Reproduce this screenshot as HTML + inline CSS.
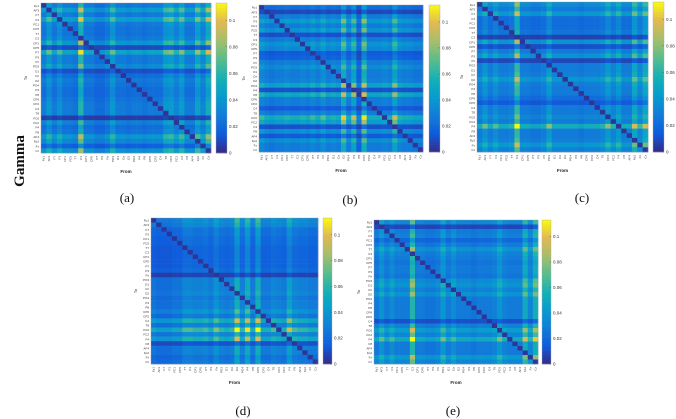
<!DOCTYPE html>
<html><head><meta charset="utf-8"><style>
html,body{margin:0;padding:0;background:#fff;width:676px;height:419px;overflow:hidden}
svg{display:block}
text{font-family:"Liberation Sans",sans-serif}
</style></head><body>
<svg id="fig" width="676" height="419" xmlns="http://www.w3.org/2000/svg">
<text x="0" y="0" transform="translate(24,161) rotate(-90)" text-anchor="middle" font-weight="bold" font-size="15" fill="#111" style="font-family:'Liberation Serif',serif">Gamma</text>
</svg>
<script>
const channels = ["Fp1","AF3","F7","F3","FC1","FC5","T7","C3","CP1","CP5","P7","P3","Pz","PO3","O1","Oz","O2","PO4","P4","P8","CP6","CP2","C4","T8","FC6","FC2","F4","F8","AF4","Fp2","Fz","Cz"];
const colorTicks = [0,0.02,0.04,0.06,0.08,0.1];
const vmax = 0.113;
const scaleBase = 0.027;
const panelLabels = ["(a)","(b)","(c)","(d)","(e)"];
const colA = [1.0,1.5,1.0,1.4,1.0,1.0,0.9,2.2,1.0,1.0,0.8,0.8,1.0,1.5,1.0,1.0,0.9,1.0,1.0,0.9,1.0,1.0,1.0,1.5,1.6,1.2,1.6,1.0,1.0,1.7,1.2,2.0];
const rowA = [1.0,1.6,1.0,1.7,1.0,0.9,0.9,1.0,1.5,0.35,1.8,1.0,1.0,1.3,0.4,0.8,1.0,0.9,0.8,0.8,0.9,1.0,1.0,1.0,0.2,1.1,0.8,0.9,1.5,1.2,0.6,1.4];
const colB = [1.2,1.0,0.9,1.0,1.0,1.1,1.0,1.0,1.1,1.0,1.2,1.0,1.3,1.0,1.1,1.0,1.9,1.0,1.7,0.6,2.0,1.0,1.0,1.0,1.1,1.0,1.7,1.1,1.0,1.0,0.9,0.9];
const rowB = [0.8,0.3,1.0,1.5,1.0,1.4,0.4,1.0,1.4,1.2,0.5,0.6,1.0,1.3,1.0,1.0,1.1,1.7,0.4,1.8,1.0,1.0,0.5,1.0,2.0,1.6,0.4,1.3,0.5,1.3,1.0,1.0];
const colC = [1.0,1.4,1.0,1.3,1.0,1.0,1.1,2.3,1.0,1.0,0.9,0.9,1.0,1.5,1.0,1.0,1.0,1.0,1.0,0.9,1.0,1.0,1.0,1.1,1.5,1.1,1.5,1.0,1.0,1.8,1.2,1.8];
const rowC = [1.3,1.0,1.5,0.8,0.8,0.8,0.9,0.25,1.4,0.4,1.0,1.4,0.3,1.0,1.0,1.1,1.5,1.1,1.0,1.0,0.8,0.5,1.0,1.0,1.2,1.0,2.0,1.0,1.0,1.1,1.5,1.1];
const colD = [0.9,0.8,0.8,0.8,0.9,0.9,1.2,1.2,1.1,1.1,1.2,1.0,1.4,1.1,1.0,1.1,2.0,1.1,1.9,1.0,2.0,1.0,1.0,1.2,1.1,1.0,1.7,1.2,1.1,1.1,1.0,1.0];
const rowD = [1.2,1.1,0.8,0.8,0.7,0.7,0.6,0.6,0.6,0.6,0.6,0.7,0.25,1.0,1.0,1.0,1.1,0.9,1.0,1.0,1.3,0.9,1.8,1.0,2.1,1.1,1.8,0.4,1.0,1.0,0.8,0.9];
const colE = [1.0,1.4,1.0,1.3,1.0,1.0,1.0,2.2,1.0,1.0,0.9,0.9,1.0,1.5,1.0,1.3,1.0,1.0,1.0,0.9,1.0,1.0,1.0,1.1,1.5,1.1,1.0,1.0,1.0,1.9,1.2,2.0];
const rowE = [1.2,0.3,1.0,1.1,0.7,1.0,1.4,1.1,1.0,0.9,1.0,1.0,0.9,1.3,1.4,1.1,1.4,1.0,1.0,1.0,1.0,1.0,0.4,1.1,1.6,1.2,1.9,1.0,1.0,1.0,1.5,1.2];

const NS = "http://www.w3.org/2000/svg";
const fig = document.getElementById("fig");
const parula = [[53,42,135],[15,92,221],[18,125,216],[7,156,207],[21,177,180],[89,189,140],[165,190,107],[225,185,82],[249,251,14]];
function cmap(v){
  let t = Math.max(0, Math.min(1, v / vmax)) * (parula.length - 1);
  let i = Math.min(parula.length - 2, Math.floor(t)), f = t - i;
  const a = parula[i], b = parula[i+1];
  return "rgb(" + a.map((x,k)=>Math.round(x + (b[k]-x)*f)).join(",") + ")";
}
function mk(tag, attrs, parent){
  const e = document.createElementNS(NS, tag);
  for (const k in attrs) e.setAttribute(k, attrs[k]);
  (parent || fig).appendChild(e);
  return e;
}
const panels = [
  {rows: rowA, cols: colA, x0: 41, x1: 211, y0: 3, y1: 153, cb: [216, 227], lx: 127, ly: 202},
  {rows: rowB, cols: colB, x0: 259, x1: 423, y0: 5, y1: 152, cb: [429, 440], lx: 350, ly: 204},
  {rows: rowC, cols: colC, x0: 477, x1: 648, y0: 2, y1: 152, cb: [653, 664], lx: 582, ly: 202},
  {rows: rowD, cols: colD, x0: 151, x1: 318, y0: 218, y1: 364, cb: [323, 332], lx: 243, ly: 415},
  {rows: rowE, cols: colE, x0: 374, x1: 538, y0: 220, y1: 364, cb: [542, 551], lx: 453, ly: 415}
];
panels.forEach((p, pi) => {
  const g = mk("g", {});
  
  
  const n = channels.length;
  const cw = (p.x1 - p.x0) / n, ch = (p.y1 - p.y0) / n;
  const xs = j => p.x0 + j * cw, ys = i => p.y0 + i * ch;
  for (let i = 0; i < n; i++) for (let j = 0; j < n; j++) {
    const v = i === j ? 0.003 : scaleBase * p.rows[i] * p.cols[j];
    const r = mk("rect", {x: xs(j).toFixed(2), y: ys(i).toFixed(2), width: (cw + 0.3).toFixed(2), height: (ch + 0.3).toFixed(2), fill: cmap(v)}, g);
    
    
  }
  mk("rect", {x: p.x0, y: p.y0, width: p.x1 - p.x0, height: p.y1 - p.y0, fill: "none", stroke: "#999", "stroke-width": 0.4}, g);
  for (let i = 0; i < n; i++) {
    const t = mk("text", {x: p.x0 - 2, y: ys(i) + ch * 0.8, "font-size": 3, "text-anchor": "end", fill: "#333"}, g);
    t.textContent = channels[i];
    
    
    const tx = mk("text", {x: 0, y: 0, "font-size": 3, "text-anchor": "end", fill: "#333", transform: "translate(" + (xs(i) + cw * 0.7).toFixed(2) + "," + (p.y1 + 3) + ") rotate(-90)"}, g);
    tx.textContent = channels[i];
    
    
  }
  const yl = mk("text", {x: 0, y: 0, "font-size": 4, "text-anchor": "middle", fill: "#222", transform: "translate(" + (p.x0 - 14) + "," + ((p.y0 + p.y1) / 2) + ") rotate(-90)"}, g);
  yl.textContent = "To";
  
  
  const xl = mk("text", {x: (p.x0 + p.x1) / 2, y: p.y1 + 20, "font-size": 4.5, "font-weight": "bold", "text-anchor": "middle", fill: "#222"}, g);
  xl.textContent = "From";
  
  
  const cbg = mk("g", {}, g);
  
  
  const steps = 60, h = (p.y1 - p.y0) / steps;
  for (let s = 0; s < steps; s++) {
    const v = vmax * (1 - (s + 0.5) / steps);
    mk("rect", {x: p.cb[0], y: (p.y0 + s * h).toFixed(2), width: p.cb[1] - p.cb[0], height: (h + 0.3).toFixed(2), fill: cmap(v)}, cbg);
  }
  mk("rect", {x: p.cb[0], y: p.y0, width: p.cb[1] - p.cb[0], height: p.y1 - p.y0, fill: "none", stroke: "#aaa", "stroke-width": 0.4}, cbg);
  colorTicks.forEach(tv => {
    const ty = p.y1 - tv / vmax * (p.y1 - p.y0);
    mk("line", {x1: p.cb[1] - 1.5, x2: p.cb[1], y1: ty, y2: ty, stroke: "#555", "stroke-width": 0.4}, cbg);
    const tl = mk("text", {x: p.cb[1] + 2, y: ty + 1.5, "font-size": 4.5, fill: "#333"}, cbg);
    tl.textContent = tv === 0 ? "0" : String(tv);
    
    
  });
  const pl = mk("text", {x: p.lx, y: p.ly, "font-size": 13, "text-anchor": "middle", fill: "#111", style: "font-family:'Liberation Serif',serif"});
  pl.textContent = panelLabels[pi];
  
  
});
</script>
</body></html>
